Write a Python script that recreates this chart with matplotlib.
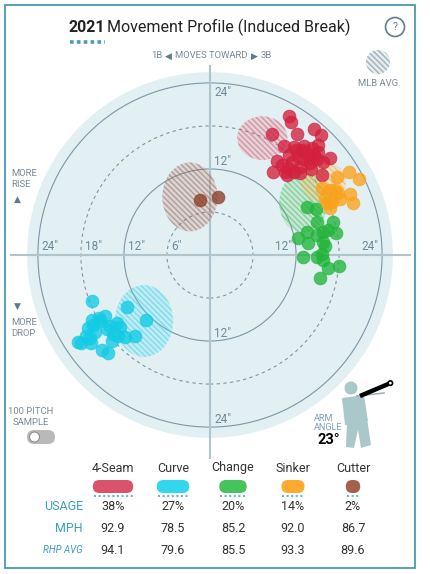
import matplotlib
matplotlib.use("Agg")
import matplotlib.pyplot as plt
from matplotlib.patches import Circle, Ellipse, FancyBboxPatch, Polygon, Rectangle
from matplotlib.colors import to_rgba
import numpy as np

plt.rcParams['font.family'] = ['Roboto', 'DejaVu Sans']
plt.rcParams['hatch.linewidth'] = 1.1

# ---- data (inches of induced break; + horizontal = toward 3B) ----
four_seam_h = [11.0, 11.3, 8.6, 12.1, 14.5, 15.5, 10.3, 11.7, 13.1, 14.2, 15.1, 11.0, 12.3,
               13.0, 13.9, 14.9, 15.8, 16.7, 9.3, 8.8, 12.6, 10.7, 11.7, 12.6, 15.6, 13.9,
               13.4, 14.1, 10.0, 11.4, 12.0, 10.5, 12.8, 14.5, 10.9, 15.1]
four_seam_v = [19.4, 18.5, 16.9, 16.9, 17.6, 16.7, 15.2, 15.1, 15.2, 14.9, 14.4, 13.9, 13.8,
               13.4, 13.5, 13.4, 13.0, 13.5, 13.1, 11.6, 12.3, 11.2, 11.6, 11.4, 11.2, 12.8,
               14.4, 12.0, 12.6, 13.0, 14.6, 11.6, 14.6, 13.9, 12.1, 15.3]

curve_h = [-16.5, -11.6, -8.9, -16.5, -15.5, -14.6, -15.3, -17.0, -16.0, -14.4, -13.0, -12.6,
           -13.5, -12.8, -11.9, -10.5, -17.3, -18.4, -18.0, -16.6, -13.7, -15.1, -14.2,
           -16.3, -13.9, -16.7]
curve_v = [-6.4, -7.3, -9.1, -9.1, -8.8, -8.5, -9.2, -10.2, -10.7, -10.3, -9.5, -10.0,
           -11.0, -11.3, -11.4, -11.3, -11.3, -12.1, -12.3, -12.3, -12.0, -13.2, -13.7,
           -9.8, -9.9, -11.6]

change_h = [13.5, 14.8, 14.9, 17.2, 13.5, 14.9, 15.8, 16.5, 17.6, 12.3, 13.7, 15.8, 13.0,
            14.9, 15.6, 15.8, 16.5, 18.0, 15.3, 16.0]
change_v = [6.7, 6.4, 4.6, 4.6, 3.2, 2.8, 3.2, 3.5, 3.1, 2.4, 1.7, 1.8, -0.3,
            -0.3, 0.1, -0.7, -1.8, -1.5, -3.2, 1.3]

sinker_h = [17.7, 19.4, 20.8, 15.6, 16.7, 17.4, 16.0, 17.0, 18.1, 19.5, 19.9, 16.7, 16.3, 17.9]
sinker_v = [10.9, 11.6, 10.6, 9.3, 9.1, 9.1, 7.9, 7.4, 7.8, 8.5, 7.3, 6.6, 7.3, 8.6]

cutter_h = [-1.4, 1.1]
cutter_v = [7.7, 8.1]

# MLB average movement per pitch (center h, center v, spread h, spread v)
mlb_avg_h = [7.3, -9.2, 13.0, 15.8, -2.8]
mlb_avg_v = [16.3, -9.2, 7.3, 10.2, 8.1]
mlb_avg_w = [7.0, 8.1, 6.7, 6.3, 7.7]
mlb_avg_hgt = [6.1, 10.0, 8.4, 5.6, 9.6]

pitch_names = ['4-Seam', 'Curve', 'Change', 'Sinker', 'Cutter']
usage = [38, 27, 20, 14, 2]
mph = [92.9, 78.5, 85.2, 92.0, 86.7]
rhp_avg = [94.1, 79.6, 85.5, 93.3, 89.6]
arm_angle = 23

rings = [6, 12, 18, 24]

dot_colors = ['#d3203e', '#12cbe4', '#22b43a', '#fba21a', '#8c3c28']
pill_colors = ['#d9546a', '#34d6ee', '#46c35a', '#fbab2f', '#a3604f']

W, H = 431, 574
CX, CY = 210, 255
PPI = 7.17  # pixels per inch of break

fig = plt.figure(figsize=(W / 100, H / 100), dpi=100)

# chart axes in inches
ax = fig.add_axes([0, 0, 1, 1])
ax.set_xlim(-CX / PPI, (W - CX) / PPI)
ax.set_ylim(-(H - CY) / PPI, CY / PPI)
ax.axis('off')

ax.add_patch(Circle((0, 0), 25.5, facecolor='#e2eff3', edgecolor='none', zorder=0))
for r in rings:
    ls = '-' if r % 12 == 0 else (0, (3, 3))
    ax.add_patch(Circle((0, 0), r, fill=False, edgecolor='#7d97a6', lw=0.8, ls=ls, zorder=1))
ax.plot([-27.8, 27.9], [0, 0], color='#b0c4cd', lw=1.5, zorder=1.5)
ax.plot([0, 0], [-28.3, 26.4], color='#b0c4cd', lw=1.5, zorder=1.5)

lab = dict(color='#6c8a9b', fontsize=8.5, va='center', zorder=2)
for r in rings:
    ax.text(-r + 0.55, 1.2, f'{r}"', ha='left', **lab)
for r in [12, 24]:
    ax.text(r - 0.55, 1.2, f'{r}"', ha='right', **lab)
    ax.text(0.55, -r + 1.1, f'{r}"', ha='left', **lab)
ax.text(0.55, 24 - 1.3, '24"', ha='left', **lab)
ax.text(0.55, 12 + 1.1, '12"', ha='left', **lab)

for i in range(len(pitch_names)):
    c = pill_colors[i]
    ax.add_patch(Ellipse((mlb_avg_h[i], mlb_avg_v[i]), mlb_avg_w[i], mlb_avg_hgt[i],
                         facecolor=to_rgba(c, 0.16), edgecolor=to_rgba(c, 0.5),
                         hatch='\\\\\\\\\\\\', lw=0, zorder=2))

series = [(four_seam_h, four_seam_v), (curve_h, curve_v), (change_h, change_v),
          (sinker_h, sinker_v), (cutter_h, cutter_v)]
for (hx, vy), c in zip(series, dot_colors):
    ax.scatter(hx, vy, s=86, color=c, alpha=0.78, edgecolors=to_rgba(c, 0.9),
               linewidths=0.5, zorder=3)

# overlay axes in pixels for the frame, header and table
px = fig.add_axes([0, 0, 1, 1], zorder=5)
px.set_xlim(0, W)
px.set_ylim(H, 0)
px.axis('off')
px.patch.set_alpha(0)

px.add_patch(Rectangle((5, 5), 410, 563, fill=False, edgecolor='#4a9bb0', lw=1.3))

px.text(69, 27, '2021', fontsize=11.5, fontweight='bold', color='#222222', va='center', ha='left')
px.text(107, 27, 'Movement Profile (Induced Break)', fontsize=11.5, color='#222222',
        va='center', ha='left')
px.plot([70, 105], [42, 42], color='#4a9bb0', lw=2.6, ls=(0, (1, 0.9)))

px.add_patch(Circle((395, 27), 9.5, fill=False, edgecolor='#5f7f8f', lw=1.2))
px.text(395, 27.5, '?', fontsize=7.5, color='#5f7f8f', ha='center', va='center')

small = dict(fontsize=6.8, color='#7a8a99', va='center')
tri = dict(ha='center', fontsize=6.5, color='#5d7b8a', va='center', family='DejaVu Sans')
px.text(157, 56, '1B', ha='center', **small)
px.text(168, 56, '\u25c0', **tri)
px.text(211, 56, 'MOVES TOWARD', ha='center', **small)
px.text(254, 56, '\u25b6', **tri)
px.text(266, 56, '3B', ha='center', **small)

px.add_patch(Circle((378, 62), 12, facecolor='#e6eef1', edgecolor='#a4b4bd',
                    hatch='\\\\\\\\\\\\', lw=0))
px.text(379, 83, 'MLB AVG.', ha='center', **small)

px.text(11, 179, 'MORE\nRISE', ha='left', linespacing=1.15, **small)
px.text(17, 199, '\u25b2', **tri)
px.text(17, 306, '\u25bc', **tri)
px.text(11, 328, 'MORE\nDROP', ha='left', linespacing=1.15, **small)

px.text(31, 417, '100 PITCH\nSAMPLE', ha='center', linespacing=1.15, **small)
px.add_patch(FancyBboxPatch((27, 430), 28, 14, boxstyle='round,pad=0,rounding_size=7',
                            facecolor='#b9b9b9', edgecolor='none'))
px.add_patch(Circle((34.5, 437), 5, facecolor='white', edgecolor='#8d8d8d', lw=0.8))

# pitcher silhouette with arm angle
body = '#aac8ca'
px.add_patch(Circle((351, 388), 6.5, facecolor=body, edgecolor='none'))
px.add_patch(Polygon([(342, 398), (364, 395), (368, 421), (345, 425)], facecolor=body,
                     edgecolor='none'))
px.add_patch(Polygon([(347, 420), (367, 418), (371, 445), (361, 448), (358, 430),
                      (354, 448), (346, 447)], facecolor=body, edgecolor='none'))
px.plot([357, 384], [396, 393], color='#9fb3b6', lw=1.2)
sx, sy, arm_len = 360, 396, 33
ex = sx + arm_len * np.cos(np.radians(arm_angle))
ey = sy - arm_len * np.sin(np.radians(arm_angle))
px.plot([sx, ex], [sy, ey], color='black', lw=3.2, solid_capstyle='butt')
px.add_patch(Circle((ex, ey), 2.2, facecolor='white', edgecolor='black', lw=1.2, zorder=6))
px.text(314, 423, 'ARM\nANGLE', ha='left', fontsize=6.6, color='#7d9fb5', va='center',
        linespacing=1.05)
px.text(329, 440, f'{arm_angle}\u00b0', ha='center', va='center', fontsize=10.5,
        fontweight='bold', color='black')

# table
col_x = [113 + 60 * i for i in range(len(pitch_names))]
for i, name in enumerate(pitch_names):
    x = col_x[i]
    px.text(x, 468, name, ha='center', va='center', fontsize=9, color='#333333')
    w = 13 + 0.72 * usage[i]
    px.add_patch(FancyBboxPatch((x - w / 2, 480), w, 13, boxstyle='round,pad=0,rounding_size=6.5',
                                facecolor=pill_colors[i], edgecolor='none'))
    px.plot([x - w / 2 + 1, x + w / 2], [496, 496], color='#6bb7c9', lw=1.5, ls=(0, (1, 1.2)))
    px.text(x, 506, f'{usage[i]}%', ha='center', va='center', fontsize=9, color='#333333')
    px.text(x, 528, f'{mph[i]:.1f}', ha='center', va='center', fontsize=9, color='#333333')
    px.text(x, 550, f'{rhp_avg[i]:.1f}', ha='center', va='center', fontsize=9, color='#333333')

px.text(83, 506, 'USAGE', ha='right', va='center', fontsize=9, color='#3a9fc0')
px.text(83, 528, 'MPH', ha='right', va='center', fontsize=9, color='#3a9fc0')
px.text(83, 550, 'RHP AVG', ha='right', va='center', fontsize=7, color='#3a9fc0',
        style='italic')

fig.savefig('out.png', dpi=100)
